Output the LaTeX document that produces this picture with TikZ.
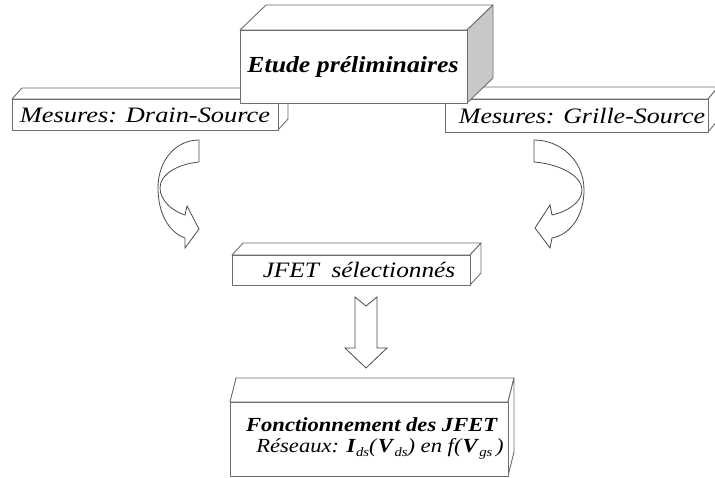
\documentclass[tikz,border=0pt]{standalone}
\usepackage{fontspec}
\setmainfont{Liberation Serif}
\usepackage{graphicx}
\definecolor{edge}{HTML}{6E6E6E}
\definecolor{sidegray}{HTML}{C8C8C8}
\definecolor{arr}{HTML}{4A4A4A}
\newcommand{\drawslab}[7]{%
  \draw[face] (#1,#2) -- (#1+#5,#2-#6) -- (#3+#5,#2-#6) -- (#3,#2) -- cycle;
  \draw[face, fill=#7] (#3,#2) -- (#3+#5,#2-#6) -- (#3+#5,#4-#6) -- (#3,#4) -- cycle;
  \draw[face] (#1,#2) rectangle (#3,#4);
}
\newcommand{\lowsub}[1]{\raisebox{-4pt}{\fontsize{13}{15}\selectfont\textit{#1}}}
\begin{document}
\begin{tikzpicture}[x=1pt,y=-1pt,
  face/.style={draw=edge, fill=white, line width=0.9pt, line join=round},
  bigarrow/.style={draw=arr, fill=white, line width=0.8pt, line join=miter},
  txt/.style={inner sep=0pt, text=black}]
\useasboundingbox (0,0) rectangle (715,477);
% side boxes
\drawslab{12}{99}{278}{130}{10}{11}{white}
\drawslab{445}{99}{708}{132}{10}{12}{white}
% top box
\drawslab{240}{30}{467}{103}{26}{25}{sidegray}
% middle box
\drawslab{232}{255}{470}{285}{11}{12}{white}
% bottom box
\drawslab{230}{402}{508}{476}{6}{24}{white}
% texts
\node[txt] (etude) at (353,67) {\fontsize{23}{27}\selectfont\scalebox{1.12}[1]{\textbf{\textit{Etude préliminaires}}}};
\node[txt] (mds) at (145,115) {\fontsize{22}{26}\selectfont\scalebox{1.2}[1]{\textit{Mesures: Drain-Source}}};
\node[txt] (mgs) at (582,116) {\fontsize{22}{26}\selectfont\scalebox{1.18}[1]{\textit{Mesures: Grille-Source}}};
\node[txt] (jfet) at (359,270) {\fontsize{22}{26}\selectfont\scalebox{1.15}[1]{\textit{JFET\ \ sélectionnés}}};
\node[txt] (fonc) at (372,425) {\fontsize{20}{24}\selectfont\scalebox{1.13}[1]{\textbf{\textit{Fonctionnement des JFET}}}};
\node[txt] (res) at (380,449) {\fontsize{20}{24}\selectfont\scalebox{1.13}[1]{\textit{Réseaux: }\textbf{\textit{I}}\lowsub{ds}\textit{(}\textbf{\textit{V}}\lowsub{ds}\textit{) en f(}\textbf{\textit{V}}\lowsub{gs}\textit{\,)}}};
% left curved arrow
\draw[bigarrow] (199,140) -- (199,162)
  .. controls (178,164) and (160,174) .. (160,188)
  .. controls (160,200) and (172,211) .. (185,215)
  -- (187,206) -- (199,229) -- (185,248) -- (185,238)
  .. controls (168,232) and (158,212) .. (158,188)
  .. controls (158,160) and (176,140) .. (199,140) -- cycle;
% right curved arrow
\draw[bigarrow] (534,140) -- (534,162)
  .. controls (560,164) and (582,176) .. (582,190)
  .. controls (582,203) and (566,212) .. (552,215)
  -- (550,205) -- (535,228) -- (550,248) -- (552,238)
  .. controls (572,234) and (584,214) .. (584,190)
  .. controls (584,160) and (560,140) .. (534,140) -- cycle;
% down arrow
\draw[bigarrow] (355,297) -- (366,306) -- (377,297) -- (377,348) -- (387,348)
  -- (366,368) -- (345,348) -- (355,348) -- cycle;
\end{tikzpicture}
\end{document}
